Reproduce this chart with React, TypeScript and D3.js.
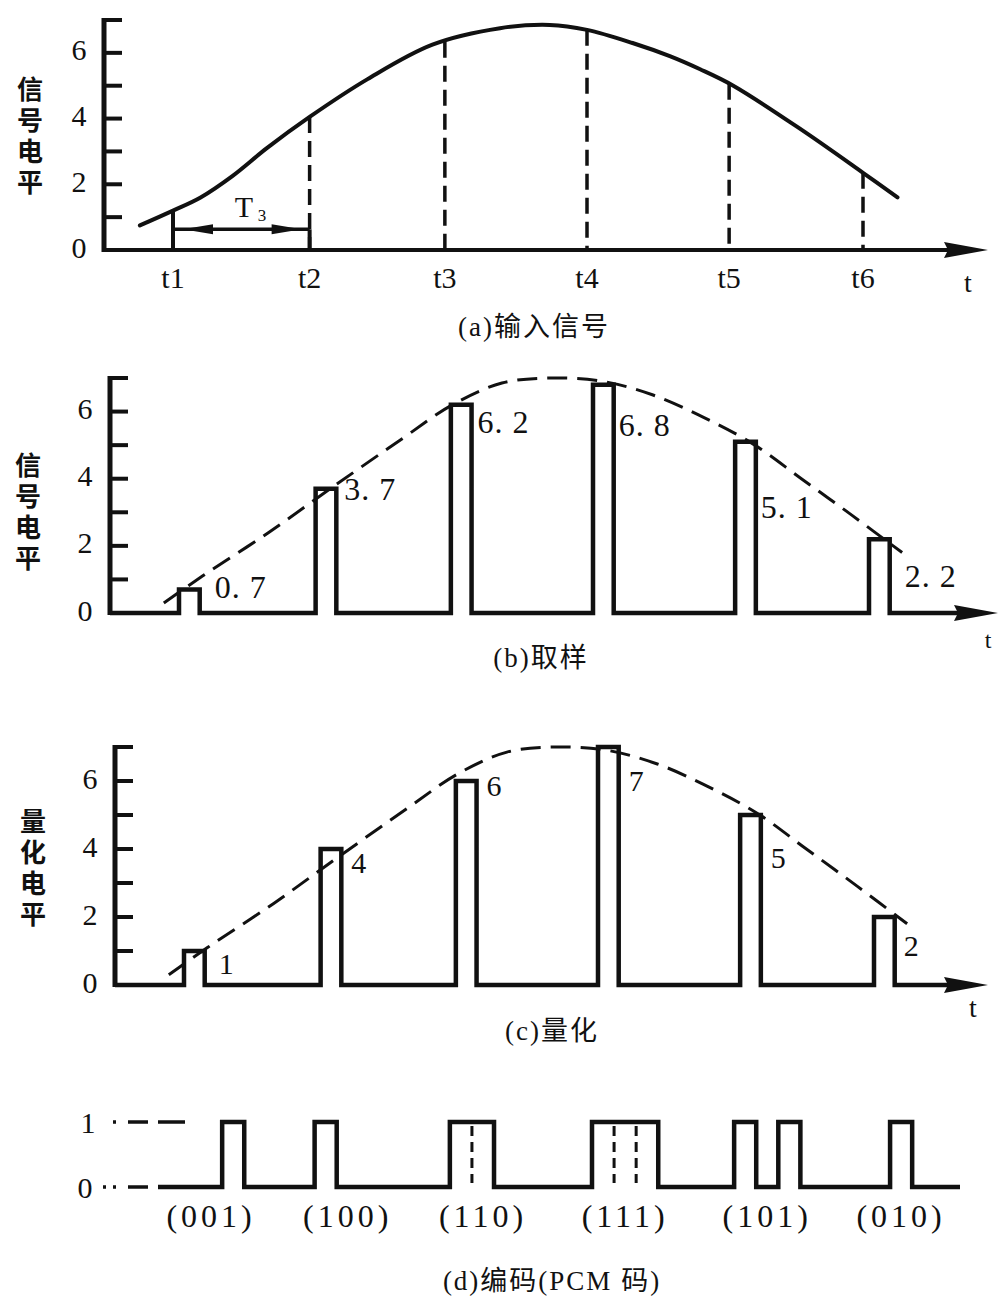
import React from 'react';
import * as d3 from 'd3';

// sampling instants t1..t6, in sampling periods
const sampleTimes = [1, 1.99, 2.97, 4.0, 5.03, 6.0];
const sampleNames = ['t1', 't2', 't3', 't4', 't5', 't6'];

// (a) analog input signal: time (periods) / level
const inputTimes = [0.76, 1.0, 1.2, 1.43, 1.68, 1.99, 2.41, 2.88, 3.37, 3.73, 4.0, 4.33, 4.6, 4.82, 5.06, 5.54, 6.0, 6.25];
const inputLevels = [0.75, 1.2, 1.6, 2.25, 3.1, 4.05, 5.2, 6.25, 6.75, 6.85, 6.7, 6.3, 5.9, 5.5, 5.0, 3.7, 2.35, 1.6];

// (b) sampled values
const sampledValues = [0.7, 3.7, 6.2, 6.8, 5.1, 2.2];
const sampledLabels = ['0. 7', '3. 7', '6. 2', '6. 8', '5. 1', '2. 2'];

// dashed envelope drawn over (b) and (c)
const envTimes = [0.89, 1.17, 1.65, 2.13, 2.62, 2.98, 3.34, 3.7, 4.07, 4.43, 4.79, 5.15, 5.51, 5.88, 6.24];
const envLevels = [0.3, 1.1, 2.4, 3.8, 5.2, 6.2, 6.85, 7.0, 6.9, 6.5, 5.85, 5.06, 4.0, 2.9, 1.8];

// (c) quantized levels
const quantLevels = [1, 4, 6, 7, 5, 2];

// (d) 3-bit PCM code words
const pcmCodes = ['001', '100', '110', '111', '101', '010'];

const yTicks = [1, 2, 3, 4, 5, 6, 7];
const yTickLabels = [0, 2, 4, 6];

const ink = '#111';
const serif = "'Liberation Serif', 'DejaVu Serif', 'Noto Sans CJK SC', serif";
const cjk = "'Noto Sans CJK SC', sans-serif";
const PERIOD_PX = 138;
const PULSE_W = 0.15;
const BIT_W = 0.16;

const makeX = (axisX) => d3.scaleLinear().domain([0.5, 7]).range([axisX, axisX + 6.5 * PERIOD_PX]);

// label nudges (px) relative to pulse top-right corner
const bNudge = [[15, -3], [8, 0], [6, 17], [5, 40], [5, 65], [15, 37]];
const cNudge = [[14, 12], [10, 13], [10, 4], [10, 33], [10, 42], [9, 28]];

const Arrow = ({ tip, y }) => (
  <path d={`M${tip},${y} L${tip - 44},${y - 8} L${tip - 40},${y} L${tip - 44},${y + 8} Z`} fill={ink} />
);

function LevelAxis({ x0, y, title, titleX, titleTop }) {
  return (
    <g>
      <line x1={x0} x2={x0} y1={y(0) + 2} y2={y(7) - 2} stroke={ink} strokeWidth={5} />
      {yTicks.map((v) => (
        <line key={v} x1={x0} x2={x0 + 18} y1={y(v)} y2={y(v)} stroke={ink} strokeWidth={4} />
      ))}
      {yTickLabels.map((v) => (
        <text key={v} x={x0 - 25} y={y(v) - 3} textAnchor="middle" dominantBaseline="central"
          fontFamily={serif} fontSize={30} fill={ink}>{v}</text>
      ))}
      <text x={titleX} y={titleTop} fontFamily={cjk} fontWeight="bold" fontSize={26} letterSpacing={5}
        fill={ink} style={{ writingMode: 'vertical-rl' }}>{title}</text>
    </g>
  );
}

function Caption({ x, y, text }) {
  return (
    <text x={x} y={y} textAnchor="middle" fontFamily={serif} fontSize={27} letterSpacing={2} fill={ink}>{text}</text>
  );
}

function pulseTrain(x, y, startX, endX, levels) {
  const p = d3.path();
  p.moveTo(startX, y(0));
  sampleTimes.forEach((t, i) => {
    const l = x(t);
    const r = x(t + PULSE_W);
    p.lineTo(l, y(0));
    p.lineTo(l, y(levels[i]));
    p.lineTo(r, y(levels[i]));
    p.lineTo(r, y(0));
  });
  p.lineTo(endX, y(0));
  return p.toString();
}

function PanelA() {
  const axisX = 104;
  const x = makeX(axisX);
  const y = d3.scaleLinear().domain([0, 7]).range([250, 20]);
  const level = d3.scaleLinear().domain(inputTimes).range(inputLevels);
  const line = d3.line().x((d) => x(d[0])).y((d) => y(d[1])).curve(d3.curveCatmullRom.alpha(0.5));
  const pts = inputTimes.map((t, i) => [t, inputLevels[i]]);
  const tip = 988;
  const by = y(0.63);
  const x1 = x(sampleTimes[0]);
  const x2 = x(sampleTimes[1]);
  return (
    <g>
      <LevelAxis x0={axisX} y={y} title="信号电平" titleX={30} titleTop={76} />
      <line x1={axisX} x2={tip - 40} y1={y(0)} y2={y(0)} stroke={ink} strokeWidth={4} />
      <Arrow tip={tip} y={y(0)} />
      <path d={line(pts)} fill="none" stroke={ink} strokeWidth={4} strokeLinecap="round" />
      {sampleTimes.map((t, i) => (
        <line key={i} x1={x(t)} x2={x(t)} y1={y(level(t))} y2={y(0)} stroke={ink} strokeWidth={i === 0 ? 4 : 3.5}
          strokeDasharray={i === 0 ? null : '16 8'} />
      ))}
      {/* T3 bracket */}
      <line x1={x2} x2={x2} y1={by} y2={y(0)} stroke={ink} strokeWidth={4} />
      <line x1={x1} x2={x2} y1={by} y2={by} stroke={ink} strokeWidth={3.5} />
      <path d={`M${x1 + 10},${by} L${x1 + 40},${by - 5} L${x1 + 40},${by + 5} Z`} fill={ink} />
      <path d={`M${x2 - 8},${by} L${x2 - 38},${by - 5} L${x2 - 38},${by + 5} Z`} fill={ink} />
      <text x={244} y={217} textAnchor="middle" fontFamily={serif} fontSize={30} fill={ink}>T</text>
      <text x={262} y={221} textAnchor="middle" fontFamily={serif} fontSize={17} fill={ink}>3</text>
      {sampleTimes.map((t, i) => (
        <text key={i} x={x(t)} y={288} textAnchor="middle" fontFamily={serif} fontSize={30} fill={ink}>{sampleNames[i]}</text>
      ))}
      <text x={968} y={292} textAnchor="middle" fontFamily={serif} fontSize={28} fill={ink}>t</text>
      <Caption x={534} y={336} text="(a)输入信号" />
    </g>
  );
}

function Envelope({ x, y }) {
  const line = d3.line().x((d) => x(d[0])).y((d) => y(d[1])).curve(d3.curveCatmullRom.alpha(0.5));
  const pts = envTimes.map((t, i) => [t, envLevels[i]]);
  return <path d={line(pts)} fill="none" stroke={ink} strokeWidth={3} strokeDasharray="20 10" />;
}

function PanelB() {
  const axisX = 110;
  const x = makeX(axisX);
  const y = d3.scaleLinear().domain([0, 7]).range([613, 378]);
  const tip = 998;
  return (
    <g>
      <LevelAxis x0={axisX} y={y} title="信号电平" titleX={28} titleTop={452} />
      <Envelope x={x} y={y} />
      <path d={pulseTrain(x, y, axisX, tip - 40, sampledValues)} fill="none" stroke={ink} strokeWidth={4.5} />
      <Arrow tip={tip} y={y(0)} />
      {sampledLabels.map((s, i) => (
        <text key={i} x={x(sampleTimes[i] + PULSE_W) + bNudge[i][0]} y={y(sampledValues[i]) + bNudge[i][1]}
          dominantBaseline="central" fontFamily={serif} fontSize={32} letterSpacing={1} fill={ink}>{s}</text>
      ))}
      <text x={988} y={648} textAnchor="middle" fontFamily={serif} fontSize={24} fill={ink}>t</text>
      <Caption x={541} y={667} text="(b)取样" />
    </g>
  );
}

function PanelC() {
  const axisX = 115;
  const x = makeX(axisX);
  const y = d3.scaleLinear().domain([0, 7]).range([985, 747]);
  const tip = 988;
  return (
    <g>
      <LevelAxis x0={axisX} y={y} title="量化电平" titleX={33} titleTop={808} />
      <Envelope x={x} y={y} />
      <path d={pulseTrain(x, y, axisX, tip - 40, quantLevels)} fill="none" stroke={ink} strokeWidth={4.5} />
      <Arrow tip={tip} y={y(0)} />
      {quantLevels.map((v, i) => (
        <text key={i} x={x(sampleTimes[i] + PULSE_W) + cNudge[i][0]} y={y(v) + cNudge[i][1]}
          dominantBaseline="central" fontFamily={serif} fontSize={30} fill={ink}>{v}</text>
      ))}
      <text x={973} y={1017} textAnchor="middle" fontFamily={serif} fontSize={28} fill={ink}>t</text>
      <Caption x={552} y={1040} text="(c)量化" />
    </g>
  );
}

function PanelD() {
  const x = makeX(109);
  const y = d3.scaleLinear().domain([0, 1]).range([1187, 1122]);
  const startX = 158;
  const endX = 960;
  const p = d3.path();
  const inner = [];
  p.moveTo(startX, y(0));
  let cur = 0;
  sampleTimes.forEach((t, i) => {
    const bits = pcmCodes[i].split('').map(Number);
    bits.forEach((b, j) => {
      const bx = x(t + j * BIT_W);
      if (b !== cur) {
        p.lineTo(bx, y(cur));
        p.lineTo(bx, y(b));
        cur = b;
      } else if (b === 1) {
        inner.push(bx);
      }
    });
    const ex = x(t + 3 * BIT_W);
    if (cur !== 0) {
      p.lineTo(ex, y(cur));
      p.lineTo(ex, y(0));
      cur = 0;
    }
  });
  p.lineTo(endX, y(0));
  return (
    <g>
      <line x1={113} x2={186} y1={y(1)} y2={y(1)} stroke={ink} strokeWidth={3.5} strokeDasharray="3 12 20 10 27 100" />
      <line x1={103} x2={startX} y1={y(0)} y2={y(0)} stroke={ink} strokeWidth={3.5} strokeDasharray="3 7 3 12 20 10" />
      <path d={p.toString()} fill="none" stroke={ink} strokeWidth={4.5} />
      {inner.map((bx, i) => (
        <line key={i} x1={bx} x2={bx} y1={y(1) + 4} y2={y(0) - 4} stroke={ink} strokeWidth={3} strokeDasharray="10 6" />
      ))}
      <text x={88} y={y(1)} dominantBaseline="central" textAnchor="middle" fontFamily={serif} fontSize={30} fill={ink}>1</text>
      <text x={85} y={y(0)} dominantBaseline="central" textAnchor="middle" fontFamily={serif} fontSize={30} fill={ink}>0</text>
      {pcmCodes.map((c, i) => (
        <text key={i} x={x(sampleTimes[i] + 1.5 * BIT_W)} y={1227} textAnchor="middle" fontFamily={serif}
          fontSize={32} letterSpacing={4} fill={ink}>{`(${c})`}</text>
      ))}
      <Caption x={552} y={1290} text="(d)编码(PCM 码)" />
    </g>
  );
}

export default function App() {
  return (
    <svg width={1001} height={1297} style={{ position: 'absolute', left: 0, top: 0, display: 'block' }}>
      <rect width={1001} height={1297} fill="#fff" />
      <PanelA />
      <PanelB />
      <PanelC />
      <PanelD />
    </svg>
  );
}
